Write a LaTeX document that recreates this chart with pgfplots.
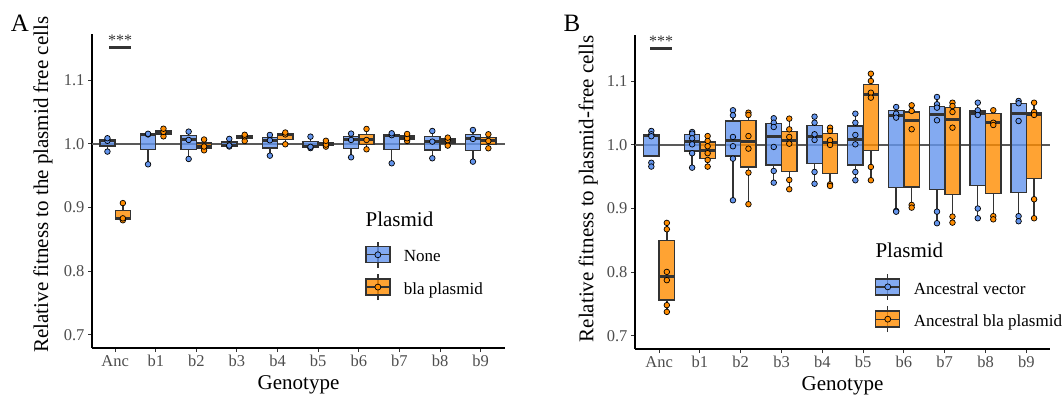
\documentclass[border=0pt]{standalone}
\usepackage{fontspec}
\setmainfont{Liberation Serif}
\usepackage{pgfplots}
\pgfplotsset{compat=1.18}
\usepgfplotslibrary{statistics}

\definecolor{cblue}{HTML}{6495ED}
\definecolor{corange}{HTML}{FF8C00}
\definecolor{boxgray}{HTML}{333333}
\definecolor{tickgray}{HTML}{4D4D4D}
\definecolor{refgray}{HTML}{595959}

\pgfplotsset{
  panel/.style={
    scale only axis, height=314pt,
    ymin=0.679, ymax=1.173,
    axis x line*=bottom, axis y line*=left,
    axis line style={-, black, line width=1.3pt},
    xtick={0,...,9}, xticklabels={Anc,b1,b2,b3,b4,b5,b6,b7,b8,b9},
    ytick={0.7,0.8,0.9,1.0,1.1}, yticklabels={0.7,0.8,0.9,1.0,1.1},
    tick align=outside, major tick length=4pt,
    tick style={boxgray, line width=1pt},
    ticklabel style={font=\fontsize{16.5}{18}\selectfont, text=tickgray},
    xlabel style={font=\fontsize{21}{24}\selectfont, at={(axis description cs:0.5,0)}, anchor=center, yshift=-37pt},
    ylabel style={font=\fontsize{21}{24}\selectfont, anchor=center},
    clip=false,
    legend cell align=left,
    legend style={draw=none, fill=none, anchor=north west, inner sep=0pt,
      font=\fontsize{17}{20}\selectfont, row sep=5pt,
      nodes={inner sep=0pt, outer sep=0pt}},
  },
  boxbase/.style={forget plot, boxplot/draw direction=y, fill opacity=0.8,
    draw=boxgray, line width=1.4pt, solid,
    boxplot/box extend=0.375, boxplot/whisker extend=0,
    boxplot/every median/.style={line width=3pt}},
  bluebox/.style={boxbase, fill=cblue},
  orangebox/.style={boxbase, fill=corange},
  ptsbase/.style={forget plot, only marks, mark=*, mark size=2.8pt},
  bluepts/.style={ptsbase, mark options={fill=cblue, draw=black, line width=0.7pt, solid}},
  orangepts/.style={ptsbase, mark options={fill=corange, draw=black, line width=0.7pt, solid}},
  refline/.style={forget plot, refgray, line width=1.2pt},
}

% legend glyphs: whisker, box, median and one point
\newcommand{\boxkey}[1]{%
  \addlegendimage{legend image code/.code={
    \draw[boxgray, line width=1.3pt] (12pt,-11pt) -- (12pt,15pt);
    \filldraw[fill=#1, fill opacity=0.8, draw=boxgray, line width=1.4pt] (0pt,-6pt) rectangle (24pt,10pt);
    \draw[boxgray, line width=1.3pt] (0pt,2pt) -- (24pt,2pt);
    \filldraw[fill=#1, draw=black, line width=0.7pt] (12pt,2pt) circle (3pt);
    \node[draw=none, fill=none, inner sep=0pt, minimum size=0pt] at (38pt,2pt) {};
  }}}

\begin{document}
\begin{tikzpicture}
\useasboundingbox (0,0) rectangle (1063pt,397pt);

\node[font=\fontsize{25}{28}\selectfont] at (20pt,374pt) {A};
\node[font=\fontsize{25}{28}\selectfont] at (572pt,374pt) {B};

%% ---------------- Panel A ----------------
\begin{axis}[panel, at={(92pt,49pt)}, anchor=south west, width=413pt,
  xmin=-0.57, xmax=9.6,
  xlabel={Genotype},
  ylabel={Relative fitness to the plasmid free cells},
  ylabel style={at={(axis description cs:-0.119,0.52)}},
  legend style={at={(axis description cs:0.661,0.341)}}]

\addplot[refline] coordinates {(-0.57,1) (9.6,1)};

% no plasmid
\addplot[bluebox, boxplot prepared={draw position=-0.19, lower whisker=0.988, lower quartile=0.9965, median=1.005, upper quartile=1.007, upper whisker=1.009}] coordinates {};
\addplot[bluebox, boxplot prepared={draw position=0.81, lower whisker=0.968, lower quartile=0.9915, median=1.015, upper quartile=1.0155, upper whisker=1.016}] coordinates {};
\addplot[bluebox, boxplot prepared={draw position=1.81, lower whisker=0.9764, lower quartile=0.9914, median=1.0063, upper quartile=1.0129, upper whisker=1.0194}] coordinates {};
\addplot[bluebox, boxplot prepared={draw position=2.81, lower whisker=0.996, lower quartile=0.9968, median=0.9975, upper quartile=1.0028, upper whisker=1.008}] coordinates {};
\addplot[bluebox, boxplot prepared={draw position=3.81, lower whisker=0.9816, lower quartile=0.9937, median=1.0058, upper quartile=1.010, upper whisker=1.0142}] coordinates {};
\addplot[bluebox, boxplot prepared={draw position=4.81, lower whisker=0.9935, lower quartile=0.9945, median=0.9955, upper quartile=1.0035, upper whisker=1.0115}] coordinates {};
\addplot[bluebox, boxplot prepared={draw position=5.81, lower whisker=0.979, lower quartile=0.9927, median=1.0063, upper quartile=1.0113, upper whisker=1.0163}] coordinates {};
\addplot[bluebox, boxplot prepared={draw position=6.81, lower whisker=0.9696, lower quartile=0.9917, median=1.0138, upper quartile=1.0153, upper whisker=1.0168}] coordinates {};
\addplot[bluebox, boxplot prepared={draw position=7.81, lower whisker=0.9775, lower quartile=0.9906, median=1.0037, upper quartile=1.0121, upper whisker=1.0204}] coordinates {};
\addplot[bluebox, boxplot prepared={draw position=8.81, lower whisker=0.9722, lower quartile=0.9901, median=1.0079, upper quartile=1.0150, upper whisker=1.022}] coordinates {};

% bla plasmid
\addplot[orangebox, boxplot prepared={draw position=0.19, lower whisker=0.880, lower quartile=0.8815, median=0.883, upper quartile=0.895, upper whisker=0.907}] coordinates {};
\addplot[orangebox, boxplot prepared={draw position=1.19, lower whisker=1.012, lower quartile=1.0155, median=1.019, upper quartile=1.0215, upper whisker=1.024}] coordinates {};
\addplot[orangebox, boxplot prepared={draw position=2.19, lower whisker=0.990, lower quartile=0.993, median=0.996, upper quartile=1.0015, upper whisker=1.007}] coordinates {};
\addplot[orangebox, boxplot prepared={draw position=3.19, lower whisker=1.0047, lower quartile=1.0084, median=1.012, upper quartile=1.0133, upper whisker=1.0145}] coordinates {};
\addplot[orangebox, boxplot prepared={draw position=4.19, lower whisker=0.9995, lower quartile=1.0073, median=1.015, upper quartile=1.0165, upper whisker=1.018}] coordinates {};
\addplot[orangebox, boxplot prepared={draw position=5.19, lower whisker=0.9958, lower quartile=0.9974, median=0.999, upper quartile=1.002, upper whisker=1.005}] coordinates {};
\addplot[orangebox, boxplot prepared={draw position=6.19, lower whisker=0.9916, lower quartile=0.9990, median=1.0063, upper quartile=1.0150, upper whisker=1.0236}] coordinates {};
\addplot[orangebox, boxplot prepared={draw position=7.19, lower whisker=1.0047, lower quartile=1.0069, median=1.009, upper quartile=1.0124, upper whisker=1.0157}] coordinates {};
\addplot[orangebox, boxplot prepared={draw position=8.19, lower whisker=0.9974, lower quartile=1.0017, median=1.006, upper quartile=1.008, upper whisker=1.010}] coordinates {};
\addplot[orangebox, boxplot prepared={draw position=9.19, lower whisker=0.9932, lower quartile=0.9990, median=1.0047, upper quartile=1.0100, upper whisker=1.0152}] coordinates {};

% replicate measurements
\addplot[bluepts] coordinates {
 (-0.19,0.988) (-0.19,1.005) (-0.19,1.009)
 (0.81,0.968) (0.81,1.015) (0.81,1.016)
 (1.81,0.9764) (1.81,1.0063) (1.81,1.0194)
 (2.81,0.996) (2.81,0.9975) (2.81,1.008)
 (3.81,0.9816) (3.81,1.0058) (3.81,1.0142)
 (4.81,0.9935) (4.81,0.9955) (4.81,1.0115)
 (5.81,0.979) (5.81,1.0063) (5.81,1.0163)
 (6.81,0.9696) (6.81,1.0138) (6.81,1.0168)
 (7.81,0.9775) (7.81,1.0037) (7.81,1.0204)
 (8.81,0.9722) (8.81,1.0079) (8.81,1.022)
};
\addplot[orangepts] coordinates {
 (0.19,0.880) (0.19,0.883) (0.19,0.907)
 (1.19,1.012) (1.19,1.019) (1.19,1.024)
 (2.19,0.990) (2.19,0.996) (2.19,1.007)
 (3.19,1.0047) (3.19,1.012) (3.19,1.0145)
 (4.19,0.9995) (4.19,1.015) (4.19,1.018)
 (5.19,0.9958) (5.19,0.999) (5.19,1.005)
 (6.19,0.9916) (6.19,1.0063) (6.19,1.0236)
 (7.19,1.0047) (7.19,1.009) (7.19,1.0157)
 (8.19,0.9974) (8.19,1.006) (8.19,1.010)
 (9.19,0.9932) (9.19,1.0047) (9.19,1.0152)
};

\draw[boxgray, line width=2.5pt] (axis cs:-0.15,1.152) -- (axis cs:0.39,1.152);
\node[anchor=base, font=\fontsize{16}{18}\selectfont, text=boxgray] at (axis cs:0.12,1.155) {***};

\node[anchor=west, font=\fontsize{21}{24}\selectfont] at (axis description cs:0.654,0.411) {Plasmid};
\boxkey{cblue}\addlegendentry{None}
\boxkey{corange}\addlegendentry{bla plasmid}
\end{axis}

%% ---------------- Panel B ----------------
\begin{axis}[panel, at={(635pt,48pt)}, anchor=south west, width=415pt,
  xmin=-0.59, xmax=9.58,
  xlabel={Genotype},
  ylabel={Relative fitness to plasmid-free cells},
  ylabel style={at={(axis description cs:-0.113,0.51)}},
  legend style={at={(axis description cs:0.578,0.242)}}]

\addplot[refline] coordinates {(-0.59,1) (9.58,1)};

% ancestral vector
\addplot[bluebox, boxplot prepared={draw position=-0.19, lower whisker=0.9827, lower quartile=0.9827, median=1.015, upper quartile=1.0157, upper whisker=1.0157}] coordinates {};
\addplot[bluebox, boxplot prepared={draw position=0.81, lower whisker=0.9643, lower quartile=0.9906, median=1.005, upper quartile=1.0168, upper whisker=1.0204}] coordinates {};
\addplot[bluebox, boxplot prepared={draw position=1.81, lower whisker=0.913, lower quartile=0.9827, median=1.0063, upper quartile=1.0377, upper whisker=1.0546}] coordinates {};
\addplot[bluebox, boxplot prepared={draw position=2.81, lower whisker=0.9407, lower quartile=0.9686, median=1.0126, upper quartile=1.034, upper whisker=1.042}] coordinates {};
\addplot[bluebox, boxplot prepared={draw position=3.81, lower whisker=0.939, lower quartile=0.9712, median=1.0126, upper quartile=1.031, upper whisker=1.0445}] coordinates {};
\addplot[bluebox, boxplot prepared={draw position=4.81, lower whisker=0.9445, lower quartile=0.9686, median=1.0084, upper quartile=1.030, upper whisker=1.0492}] coordinates {};
\addplot[bluebox, boxplot prepared={draw position=5.81, lower whisker=0.896, lower quartile=0.933, median=1.047, upper quartile=1.0546, upper whisker=1.0597}] coordinates {};
\addplot[bluebox, boxplot prepared={draw position=6.81, lower whisker=0.8769, lower quartile=0.9303, median=1.0472, upper quartile=1.0602, upper whisker=1.0755}] coordinates {};
\addplot[bluebox, boxplot prepared={draw position=7.81, lower whisker=0.8847, lower quartile=0.9366, median=1.0498, upper quartile=1.0535, upper whisker=1.0665}] coordinates {};
\addplot[bluebox, boxplot prepared={draw position=8.81, lower whisker=0.880, lower quartile=0.925, median=1.0498, upper quartile=1.0656, upper whisker=1.0692}] coordinates {};

% ancestral bla plasmid
\addplot[orangebox, boxplot prepared={draw position=0.19, lower whisker=0.7374, lower quartile=0.756, median=0.7936, upper quartile=0.850, upper whisker=0.8774}] coordinates {};
\addplot[orangebox, boxplot prepared={draw position=1.19, lower whisker=0.9659, lower quartile=0.979, median=0.9916, upper quartile=1.0047, upper whisker=1.014}] coordinates {};
\addplot[orangebox, boxplot prepared={draw position=2.19, lower whisker=0.9068, lower quartile=0.9654, median=1.0047, upper quartile=1.0388, upper whisker=1.0508}] coordinates {};
\addplot[orangebox, boxplot prepared={draw position=3.19, lower whisker=0.9303, lower quartile=0.958, median=1.0073, upper quartile=1.021, upper whisker=1.0414}] coordinates {};
\addplot[orangebox, boxplot prepared={draw position=4.19, lower whisker=0.9355, lower quartile=0.9555, median=1.0037, upper quartile=1.0184, upper whisker=1.0272}] coordinates {};
\addplot[orangebox, boxplot prepared={draw position=5.19, lower whisker=0.9445, lower quartile=0.9916, median=1.0786, upper quartile=1.0954, upper whisker=1.1121}] coordinates {};
\addplot[orangebox, boxplot prepared={draw position=6.19, lower whisker=0.9014, lower quartile=0.934, median=1.0388, upper quartile=1.0519, upper whisker=1.0624}] coordinates {};
\addplot[orangebox, boxplot prepared={draw position=7.19, lower whisker=0.8778, lower quartile=0.9225, median=1.0398, upper quartile=1.0587, upper whisker=1.0665}] coordinates {};
\addplot[orangebox, boxplot prepared={draw position=8.19, lower whisker=0.883, lower quartile=0.924, median=1.035, upper quartile=1.0492, upper whisker=1.0546}] coordinates {};
\addplot[orangebox, boxplot prepared={draw position=9.19, lower whisker=0.8847, lower quartile=0.9476, median=1.0482, upper quartile=1.0508, upper whisker=1.0665}] coordinates {};

% replicate measurements
\addplot[bluepts] coordinates {
 (-0.19,1.022) (-0.19,1.0168) (-0.19,1.0137) (-0.19,0.972) (-0.19,0.966)
 (0.81,1.0204) (0.81,1.0178) (0.81,1.0105) (0.81,1.001) (0.81,0.987) (0.81,0.9643)
 (1.81,1.0546) (1.81,1.0467) (1.81,1.0126) (1.81,0.998) (1.81,0.9785) (1.81,0.913)
 (2.81,1.042) (2.81,1.035) (2.81,1.0283) (2.81,0.9969) (2.81,0.9591) (2.81,0.9407)
 (3.81,1.0445) (3.81,1.035) (3.81,1.0168) (3.81,1.0079) (3.81,0.9575) (3.81,0.939)
 (4.81,1.0492) (4.81,1.035) (4.81,1.0157) (4.81,1.001) (4.81,0.9575) (4.81,0.9445)
 (5.81,1.0597) (5.81,1.0492) (5.81,1.043) (5.81,0.8962) (5.81,0.895)
 (6.81,1.0755) (6.81,1.064) (6.81,1.0587) (6.81,1.0388) (6.81,0.8951) (6.81,0.8769)
 (7.81,1.0665) (7.81,1.0546) (7.81,1.0472) (7.81,0.900) (7.81,0.8847)
 (8.81,1.0692) (8.81,1.0656) (8.81,1.0377) (8.81,0.888) (8.81,0.880)
};
\addplot[orangepts] coordinates {
 (0.19,0.8774) (0.19,0.8674) (0.19,0.8003) (0.19,0.7873) (0.19,0.748) (0.19,0.7374)
 (1.19,1.014) (1.19,1.0063) (1.19,0.998) (1.19,0.987) (1.19,0.9764) (1.19,0.9659)
 (2.19,1.0508) (2.19,1.0472) (2.19,1.014) (2.19,0.9942) (2.19,0.9564) (2.19,0.9068)
 (3.19,1.0414) (3.19,1.0246) (3.19,1.0126) (3.19,1.002) (3.19,0.945) (3.19,0.9303)
 (4.19,1.0272) (4.19,1.022) (4.19,1.0073) (4.19,1.000) (4.19,0.938) (4.19,0.9355)
 (5.19,1.1121) (5.19,1.1006) (5.19,1.0822) (5.19,1.0744) (5.19,0.9654) (5.19,0.9445)
 (6.19,1.0624) (6.19,1.0535) (6.19,1.0247) (6.19,0.9057) (6.19,0.9014)
 (7.19,1.0665) (7.19,1.0613) (7.19,1.0519) (7.19,1.0272) (7.19,0.8873) (7.19,0.8778)
 (8.19,1.0546) (8.19,1.035) (8.19,1.0314) (8.19,0.888) (8.19,0.883)
 (9.19,1.0665) (9.19,1.0519) (9.19,1.0472) (9.19,0.9146) (9.19,0.8847)
};

\draw[boxgray, line width=2.5pt] (axis cs:-0.22,1.152) -- (axis cs:0.32,1.152);
\node[anchor=base, font=\fontsize{16}{18}\selectfont, text=boxgray] at (axis cs:0.05,1.155) {***};

\node[anchor=west, font=\fontsize{21}{24}\selectfont] at (axis description cs:0.571,0.315) {Plasmid};
\boxkey{cblue}\addlegendentry{Ancestral vector}
\boxkey{corange}\addlegendentry{Ancestral bla plasmid}
\end{axis}
\end{tikzpicture}
\end{document}
